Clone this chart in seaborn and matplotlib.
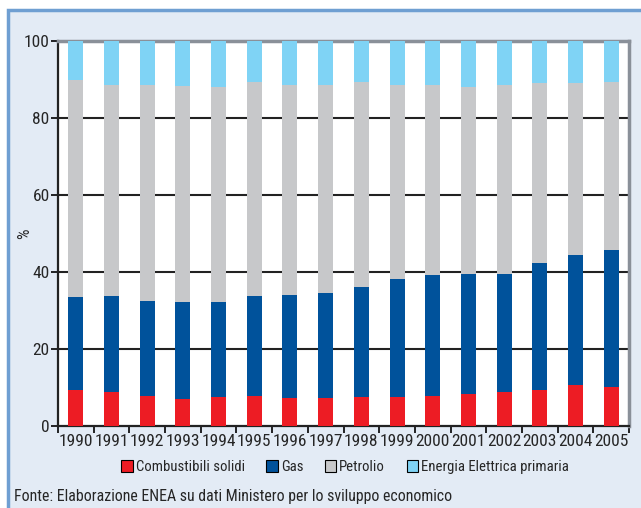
import numpy as np
import pandas as pd
import matplotlib
matplotlib.use("Agg")
import matplotlib.pyplot as plt
import matplotlib.patches as mpatches
import seaborn as sns

# -----------------------------------------
# Data (shares in %)
# -----------------------------------------

years = [str(y) for y in range(1990, 2006)]

solidi = [9.4, 8.8, 7.8, 6.9, 7.5, 7.8, 7.3, 7.3, 7.5, 7.5, 7.8, 8.3, 8.8, 9.4, 10.6, 10.1]
gas = [24.0, 24.9, 24.6, 25.2, 24.6, 25.9, 26.6, 27.2, 28.5, 30.6, 31.3, 31.1, 30.6, 32.9, 33.7, 35.7]
petrolio = [56.4, 55.0, 56.3, 56.1, 55.9, 55.6, 54.6, 54.0, 53.3, 50.6, 49.6, 48.6, 49.1, 46.7, 44.7, 43.5]
elettrica = [10.2, 11.3, 11.3, 11.8, 12.0, 10.7, 11.5, 11.5, 10.7, 11.3, 11.3, 12.0, 11.5, 11.0, 11.0, 10.7]

labels = ["Combustibili solidi", "Gas", "Petrolio", "Energia Elettrica primaria"]
colors = ["#ed1c24", "#00529b", "#c7c8ca", "#7fd3f5"]

df = pd.DataFrame({
    "Anno": years,
    labels[0]: solidi,
    labels[1]: gas,
    labels[2]: petrolio,
    labels[3]: elettrica,
})

# cumulative tops, so bars can be overlaid from tallest to shortest
cum = df[labels].cumsum(axis=1)
cum["Anno"] = df["Anno"]

# -----------------------------------------
# Figure
# -----------------------------------------

sns.set_style("white")
plt.rcParams["font.family"] = ["Roboto Condensed", "DejaVu Sans"]

bg = "#e3ebf5"
fig = plt.figure(figsize=(6.41, 5.08), dpi=100, facecolor="white")

# framed panel background
fig.patches.append(mpatches.Rectangle(
    (8 / 641, -0.05), 1.1, 1 - 10 / 508 + 0.05,
    transform=fig.transFigure, facecolor=bg,
    edgecolor="#6f9fd2", linewidth=2.5, zorder=-5
))

ax = fig.add_axes([58 / 641, 1 - 426 / 508, (629 - 58) / 641, (426 - 41) / 508])
ax.set_facecolor("white")

for i in range(3, -1, -1):
    sns.barplot(
        data=cum, x="Anno", y=labels[i], color=colors[i],
        width=0.42, saturation=1, ax=ax, zorder=3, errorbar=None,
        linewidth=0, edgecolor="none"
    )

ax.set_ylim(0, 100)
ax.set_xlim(-0.5, len(years) - 0.5)
ax.set_yticks([0, 20, 40, 60, 80, 100])
ax.set_ylabel("%", fontsize=12)
ax.yaxis.set_label_coords((32 - 58) / 571, 0.5)
ax.set_xlabel("")

for v in [20, 40, 60, 80]:
    ax.axhline(v, color="#222222", linewidth=1.5, zorder=1)

ax.tick_params(axis="y", direction="out", length=5, width=1.2,
               labelsize=12.5, pad=1, color="black", left=True)
ax.tick_params(axis="x", which="major", length=0, labelsize=12.5, pad=6)
ax.set_xticks(np.arange(-0.5, len(years)), minor=True)
ax.tick_params(axis="x", which="minor", direction="out", length=5,
               width=1.2, color="black", bottom=True)

for side in ["left", "bottom"]:
    ax.spines[side].set_color("#222222")
    ax.spines[side].set_linewidth(1.6)
for side in ["top", "right"]:
    ax.spines[side].set_color("#8a9099")
    ax.spines[side].set_linewidth(2.5)

handles = [mpatches.Patch(facecolor=c, edgecolor="black", linewidth=0.8)
           for c in colors]
fig.legend(handles, labels, loc="center", bbox_to_anchor=(345 / 641, 1 - 467 / 508),
           ncol=4, frameon=False, fontsize=10.6, handlelength=0.8, handleheight=0.8,
           handletextpad=0.2, columnspacing=1.45)

fig.text(14 / 641, 1 - 497 / 508,
         "Fonte: Elaborazione ENEA su dati Ministero per lo sviluppo economico",
         fontsize=11.4, va="center", ha="left")

fig.savefig("out.png", dpi=100, facecolor=fig.get_facecolor())
